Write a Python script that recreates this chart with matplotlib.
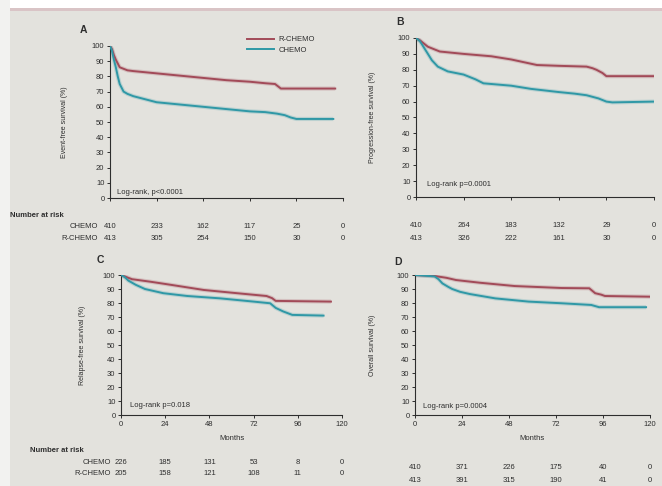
import matplotlib
matplotlib.use("Agg")
import matplotlib.pyplot as plt
import matplotlib.transforms as mtransforms
from matplotlib.patches import Rectangle

# survival curves (months, %)
a_chemo_t = [0, 1, 2, 3, 4, 5, 7, 9, 12, 18, 24, 36, 48, 60, 72, 80, 86, 90, 93, 96, 115]
a_chemo_s = [100, 97, 91, 86, 80, 75, 70, 68.5, 67, 65, 63, 61.5, 60, 58.5, 57, 56.5, 55.5, 54.5, 53, 52, 52]
a_rchemo_t = [0, 1, 2, 3, 5, 7, 9, 12, 24, 36, 48, 60, 72, 80, 85, 87, 88, 116]
a_rchemo_s = [100, 98, 94, 91, 86, 85, 84, 83.5, 82, 80.5, 79, 77.5, 76.5, 75.5, 75, 73, 72, 72]

b_chemo_t = [0, 2, 4, 6, 8, 11, 16, 24, 30, 34, 48, 58, 72, 80, 86, 92, 96, 99, 120]
b_chemo_s = [100, 98, 94, 90, 86, 82, 79, 77, 74, 71.5, 70, 68, 66, 65, 64, 62, 60, 59.5, 60]
b_rchemo_t = [0, 2, 4, 6, 12, 24, 38, 48, 61, 72, 86, 89, 91, 94, 96, 120]
b_rchemo_s = [100, 98.5, 96.5, 94.5, 91.5, 90, 88.5, 86.5, 83, 82.5, 82, 81, 80, 78, 76, 76]

c_chemo_t = [0, 2, 4, 8, 13, 23, 36, 54, 72, 81, 84, 88, 93, 110]
c_chemo_s = [100, 98.5, 96, 93, 90, 87, 85, 83.3, 81, 79.8, 76.5, 74, 71.5, 71]
c_rchemo_t = [0, 3, 6, 16, 27, 45, 63, 79, 82, 84, 114]
c_rchemo_s = [100, 98.5, 97, 95.2, 93, 89.3, 87, 85, 83.5, 81.5, 81]

d_chemo_t = [0, 10, 12, 14, 17, 19, 23, 28, 41, 58, 75, 90, 94, 118]
d_chemo_s = [100, 99, 97, 94, 91.5, 90, 88, 86.4, 83.3, 81, 79.8, 78.6, 77, 77]
d_rchemo_t = [0, 10, 16, 21, 33, 51, 75, 89, 92, 95, 97, 120]
d_rchemo_s = [100, 99.3, 98, 96.4, 94.5, 92.1, 90.7, 90.5, 87, 86, 85, 84.5]

risk_months = [0, 24, 48, 72, 96, 120]
a_risk_chemo = ["410", "233", "162", "117", "25", "0"]
a_risk_rchemo = ["413", "305", "254", "150", "30", "0"]
b_risk_chemo = ["410", "264", "183", "132", "29", "0"]
b_risk_rchemo = ["413", "326", "222", "161", "30", "0"]
c_risk_chemo = ["226", "185", "131", "53", "8", "0"]
c_risk_rchemo = ["205", "158", "121", "108", "11", "0"]
d_risk_chemo = ["410", "371", "226", "175", "40", "0"]
d_risk_rchemo = ["413", "391", "315", "190", "41", "0"]

ylabels = ["Event-free survival (%)", "Progression-free survival (%)",
           "Relapse-free survival (%)", "Overall survival (%)"]
pvals = ["Log-rank, p<0.0001", "Log-rank p=0.0001", "Log-rank p=0.018", "Log-rank p=0.0004"]
letters = ["A", "B", "C", "D"]

RED = "#a24a58"
TEAL = "#2f98a6"
BG = "#e3e2dd"
INK = "#2e2e2e"
W, H = 662, 486

plt.rcParams["font.family"] = ["Liberation Sans", "DejaVu Sans"]

fig = plt.figure(figsize=(W / 100, H / 100), dpi=100, facecolor=BG)


def fx(px):
    return px / W


def fy(py):
    return 1 - py / H


# photo edges
fig.patches.append(Rectangle((0, fy(8)), 1, 8 / H, transform=fig.transFigure,
                             facecolor="white", edgecolor="none", zorder=0))
fig.patches.append(Rectangle((0, fy(11)), 1, 3 / H, transform=fig.transFigure,
                             facecolor="#d9c4c6", edgecolor="none", zorder=0))
fig.patches.append(Rectangle((0, 0), fx(10), 1, transform=fig.transFigure,
                             facecolor="#f2f2f0", edgecolor="none", zorder=0))

# axes boxes in pixels: left, top, right, bottom
boxes = [(110, 46, 343, 198), (416, 38, 654, 197), (121, 275, 342, 415), (415, 275, 650, 415)]
curves = [(a_chemo_t, a_chemo_s, a_rchemo_t, a_rchemo_s),
          (b_chemo_t, b_chemo_s, b_rchemo_t, b_rchemo_s),
          (c_chemo_t, c_chemo_s, c_rchemo_t, c_rchemo_s),
          (d_chemo_t, d_chemo_s, d_rchemo_t, d_rchemo_s)]
risks = [(a_risk_chemo, a_risk_rchemo), (b_risk_chemo, b_risk_rchemo),
         (c_risk_chemo, c_risk_rchemo), (d_risk_chemo, d_risk_rchemo)]
risk_rows = [(227, 238), (225, 238), (462, 473), (467, 480)]
ylab_x = [65, 372, 82, 373]
letter_pos = [(83, 30), (400, 22), (100, 260), (398, 262)]
pval_pos = [(117, 192), (427, 185), (130, 405), (423, 406)]

for i, (l, t, r, b) in enumerate(boxes):
    ax = fig.add_axes([fx(l), fy(b), fx(r - l), (b - t) / H])
    ax.set_facecolor("none")
    ct, cs, rt, rs = curves[i]
    # soft halo, as in the photo
    ax.plot(rt, rs, color=RED, lw=3, alpha=0.22, zorder=2, solid_capstyle="butt")
    ax.plot(ct, cs, color=TEAL, lw=3, alpha=0.22, zorder=2, solid_capstyle="butt")
    l_r, = ax.plot(rt, rs, color=RED, lw=1.4, label="R-CHEMO", zorder=3)
    l_c, = ax.plot(ct, cs, color=TEAL, lw=1.4, label="CHEMO", zorder=3)
    ax.set_xlim(0, 120)
    ax.set_ylim(0, 100)
    ax.set_yticks(range(0, 101, 10))
    ax.set_xticks(risk_months)
    ax.tick_params(labelsize=5.5, colors=INK, length=2.5, width=0.7, pad=1.5)
    if i < 2:
        ax.set_xticklabels([])
    else:
        ax.set_xlabel("Months", fontsize=5.5, color=INK, labelpad=5)
    for s in ["top", "right"]:
        ax.spines[s].set_visible(False)
    for s in ["left", "bottom"]:
        ax.spines[s].set_color(INK)
        ax.spines[s].set_linewidth(0.8)
    fig.text(fx(ylab_x[i]), fy((t + b) / 2), ylabels[i], rotation=90, fontsize=5,
             color=INK, ha="center", va="center")
    lx, ly = letter_pos[i]
    fig.text(fx(lx), fy(ly), letters[i], fontsize=7.5, fontweight="bold",
             color=INK, ha="center", va="center")
    px, py = pval_pos[i]
    fig.text(fx(px), fy(py), pvals[i], fontsize=5.5, color=INK, ha="left", va="center")

    trans = mtransforms.blended_transform_factory(ax.transData, fig.transFigure)
    for row, vals in zip(risk_rows[i], risks[i]):
        for m, v in zip(risk_months, vals):
            ax.text(m, fy(row), v, transform=trans, fontsize=5.5, color=INK,
                    ha="center", va="center", clip_on=False)
    if i == 0:
        handles = [l_r, l_c]

# row labels for the number-at-risk tables
fig.text(fx(10), fy(215), "Number at risk", fontsize=5.5, fontweight="bold", color=INK, va="center")
fig.text(fx(98), fy(227), "CHEMO", fontsize=5.5, color=INK, ha="right", va="center")
fig.text(fx(98), fy(238), "R-CHEMO", fontsize=5.5, color=INK, ha="right", va="center")
fig.text(fx(30), fy(450), "Number at risk", fontsize=5.5, fontweight="bold", color=INK, va="center")
fig.text(fx(111), fy(462), "CHEMO", fontsize=5.5, color=INK, ha="right", va="center")
fig.text(fx(111), fy(473), "R-CHEMO", fontsize=5.5, color=INK, ha="right", va="center")

fig.legend(handles=handles, loc="upper left", bbox_to_anchor=(fx(244), fy(33)),
           frameon=False, fontsize=5.5, handlelength=3.5, handletextpad=0.6,
           labelspacing=0.4, borderaxespad=0, labelcolor=INK)

fig.savefig("out.png", dpi=100, facecolor=BG)
